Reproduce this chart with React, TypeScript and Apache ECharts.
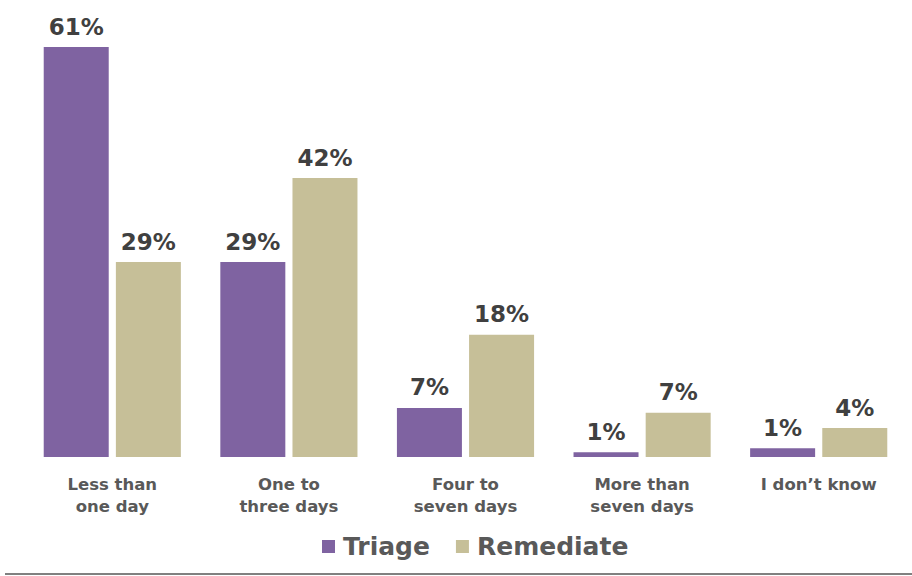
import React, { useEffect, useRef } from "react";
import * as echarts from "echarts";

const categories = ["Less than\none day", "One to\nthree days", "Four to\nseven days", "More than\nseven days", "I don\u2019t know"];
const triage = [61, 29, 7.3, 0.7, 1.3];
const remediate = [29, 41.5, 18.2, 6.6, 4.3];
const triageLabels = ["61%", "29%", "7%", "1%", "1%"];
const remediateLabels = ["29%", "42%", "18%", "7%", "4%"];

export default function App() {
  const ref = useRef<HTMLDivElement>(null);
  useEffect(() => {
    const chart = echarts.init(ref.current!, null, { renderer: "svg" });
    const font = "'DejaVu Sans', Verdana, sans-serif";
    const labelStyle = (labels: string[]) => ({
      show: true,
      position: "top",
      distance: 9,
      formatter: (p: any) => labels[p.dataIndex],
      fontFamily: font,
      fontWeight: "bold",
      fontSize: 23,
      color: "#404040",
    });
    chart.setOption({
      animation: false,
      grid: { left: 24, right: 5, top: 47, bottom: 119, containLabel: false },
      legend: {
        bottom: 12,
        left: 317,
        itemWidth: 13,
        itemHeight: 13,
        itemGap: 26,
        icon: "rect",
        textStyle: { fontFamily: font, fontWeight: "bold", fontSize: 25, color: "#595959", padding: [0, 0, 0, 3] },
        data: ["Triage", "Remediate"],
      },
      xAxis: {
        type: "category",
        data: categories,
        axisLine: { show: false },
        axisTick: { show: false },
        axisLabel: {
          margin: 16,
          fontFamily: font,
          fontWeight: "bold",
          fontSize: 16.5,
          lineHeight: 22,
          color: "#595959",
          interval: 0,
        },
      },
      yAxis: {
        type: "value",
        min: 0,
        max: 61,
        show: false,
        splitLine: { show: false },
      },
      series: [
        {
          name: "Triage",
          type: "bar",
          data: triage,
          barWidth: 65,
          barGap: "11%",
          itemStyle: { color: "#7f63a1" },
          label: labelStyle(triageLabels),
        },
        {
          name: "Remediate",
          type: "bar",
          data: remediate,
          barWidth: 65,
          itemStyle: { color: "#c6bf98" },
          label: labelStyle(remediateLabels),
        },
      ],
      graphic: [
        {
          type: "line",
          shape: { x1: 5, y1: 574, x2: 912, y2: 574 },
          style: { stroke: "#808080", lineWidth: 2 },
        },
      ],
    });
    return () => chart.dispose();
  }, []);
  return <div ref={ref} style={{ width: 912, height: 576, position: "absolute", left: 0, top: 0 }} />;
}
